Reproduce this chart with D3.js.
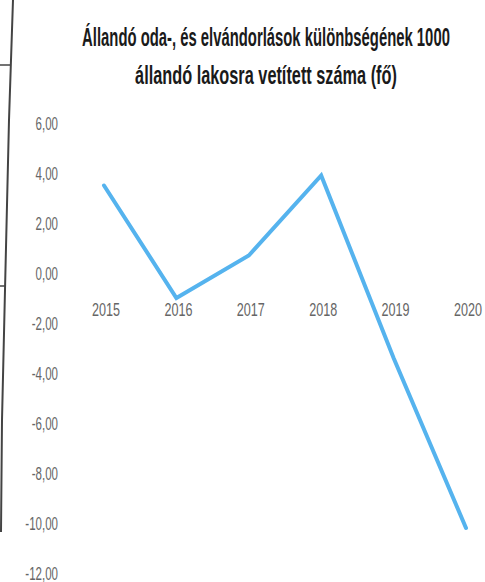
<!DOCTYPE html>
<html>
<head>
  <meta charset="utf-8">
  <title>Állandó oda-, és elvándorlások</title>
  <script src="https://cdn.jsdelivr.net/npm/d3@7"></script>
  <style>
    body { margin: 0; background: #fff; }
  </style>
</head>
<body>
<script>
// adatok
var years = ["2015", "2016", "2017", "2018", "2019", "2020"];
var values = [3.5, -1.0, 0.7, 3.9, -3.4, -10.2];
var yTicks = [6, 4, 2, 0, -2, -4, -6, -8, -10, -12];
var titleLines = ["Állandó oda-, és elvándorlások különbségének 1000",
                  "állandó lakosra vetített száma (fő)"];

var width = 485, height = 582;
var squeeze = 0.64; // keskeny betűk utánzása

var svg = d3.select("body").append("svg")
    .attr("width", width)
    .attr("height", height);

svg.append("rect").attr("width", width).attr("height", height).attr("fill", "#fff");

// a beszkennelt lap bal széle
svg.append("path")
   .attr("d", "M13,0 L9,120 L5,290 L2,420 L1,532")
   .attr("fill", "none").attr("stroke", "#444").attr("stroke-width", 2);
svg.append("line").attr("x1", 0).attr("x2", 11).attr("y1", 65).attr("y2", 65)
   .attr("stroke", "#444").attr("stroke-width", 1.5);
svg.append("line").attr("x1", 0).attr("x2", 6).attr("y1", 286).attr("y2", 286)
   .attr("stroke", "#444").attr("stroke-width", 1.5);

// cím - szélességre skálázva
var titleWidths = [368, 262];
svg.selectAll(".title")
   .data(titleLines)
   .enter().append("text")
   .attr("class", "title")
   .attr("text-anchor", "middle")
   .style("font-family", "Liberation Sans, Arial, sans-serif")
   .style("font-weight", "bold")
   .style("font-size", "25px")
   .attr("fill", "#1a1a1a")
   .text(function(d) { return d; })
   .attr("transform", function(d, i) {
     var w = this.getComputedTextLength();
     return "translate(266," + (46 + i * 38) + ") scale(" + (titleWidths[i] / w) + ",1)";
   });

var x = d3.scalePoint().domain(years).range([104, 466]);
var y = d3.scaleLinear().domain([-12, 6]).range([573, 123]);

// y tengely
var yAxis = d3.axisLeft(y)
    .tickValues(yTicks)
    .tickSize(0)
    .tickFormat(function(d) { return d3.format(".2f")(d).replace(".", ",").replace("−", "-"); });

var gy = svg.append("g")
    .attr("transform", "translate(58,0)")
    .call(yAxis);
gy.select(".domain").remove();
gy.selectAll("text")
  .attr("x", 0)
  .attr("dy", "0.35em")
  .attr("transform", "scale(" + squeeze + ",1)")
  .style("font-family", "Liberation Sans, Arial, sans-serif")
  .style("font-size", "18px")
  .attr("fill", "#666");

// x tengely feliratai
var gx = svg.append("g")
    .attr("transform", "translate(0,310)")
    .call(d3.axisBottom(x).tickSize(0));
gx.select(".domain").remove();
gx.selectAll(".tick text")
  .attr("x", 0)
  .attr("y", 0)
  .attr("dy", "0.35em")
  .attr("transform", "scale(0.7,1)")
  .style("font-family", "Liberation Sans, Arial, sans-serif")
  .style("font-size", "18px")
  .attr("fill", "#666");
gx.selectAll(".tick").attr("transform", function(d) {
  return "translate(" + (x(d) + 2) + ",0)";
});

// vonal
var line = d3.line()
    .x(function(d, i) { return x(years[i]); })
    .y(function(d) { return y(d); });

svg.append("path")
   .datum(values)
   .attr("d", line)
   .attr("fill", "none")
   .attr("stroke", "#55b3ee")
   .attr("stroke-width", 4)
   .attr("stroke-linejoin", "miter")
   .attr("stroke-linecap", "round");
</script>
</body>
</html>
